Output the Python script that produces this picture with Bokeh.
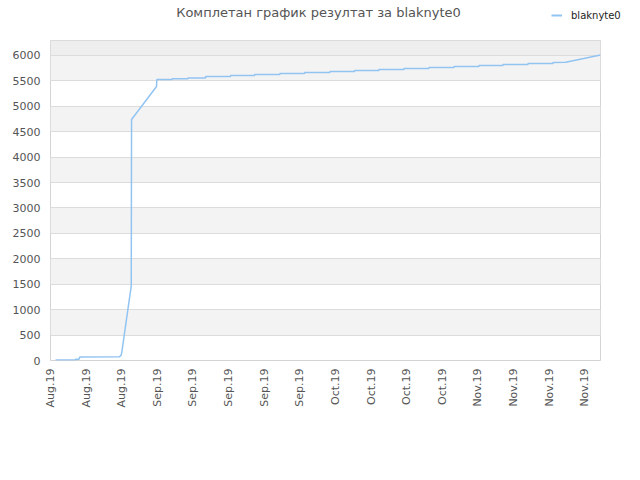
from bokeh.plotting import figure
from bokeh.models import (FixedTicker, Range1d, Legend, LegendItem, Label,
                          BoxAnnotation)
from bokeh.embed import file_html
from bokeh.resources import INLINE
import math

# ---- data (x = days since 12 Aug 2019, y = cumulative score) ----
tick_days = [0, 7, 14, 21, 28, 35, 42, 49, 56, 63, 70, 77, 84, 91, 98, 105]
tick_labels = ["Aug.19", "Aug.19", "Aug.19", "Sep.19", "Sep.19", "Sep.19",
               "Sep.19", "Sep.19", "Oct.19", "Oct.19", "Oct.19", "Oct.19",
               "Nov.19", "Nov.19", "Nov.19", "Nov.19"]

days = [0.98, 4.9, 4.9, 5.6, 5.76, 13.57, 13.86, 14.02, 15.87, 15.93,
        20.84, 20.9,
        23.93, 23.93, 27.0, 27.0, 30.48, 30.48, 35.39, 35.39, 40.11, 40.11,
        45.08, 45.08, 49.94, 49.94, 54.92, 54.92, 59.77, 59.77, 64.55, 64.55,
        69.47, 69.47, 74.38, 74.38, 79.3, 79.3, 84.21, 84.21, 88.93, 88.93,
        93.85, 93.85, 98.76, 98.76, 101.26, 104.8, 108.1]
scores = [10, 10, 25, 25, 70, 75, 100, 165, 1470, 4740,
          5390, 5528,
          5528, 5541, 5541, 5558, 5558, 5587, 5587, 5607, 5607, 5626,
          5626, 5646, 5646, 5665, 5665, 5685, 5685, 5705, 5705, 5724,
          5724, 5744, 5744, 5764, 5764, 5783, 5783, 5803, 5803, 5823,
          5823, 5842, 5842, 5862, 5868, 5940, 6010]

series_name = "blaknyte0"
title_text = "Комплетан график резултат за blaknyte0"

FONT = "DejaVu Sans"
LINE_COLOR = "#92c4f2"
W = 624

# ---- header strip (separate root, so its frame is the whole strip) ----
head = figure(width=W, height=40, output_backend="svg", toolbar_location=None,
              x_axis_location=None, y_axis_location=None,
              x_range=Range1d(0, W), y_range=Range1d(0, 40),
              min_border=0, min_border_left=0, min_border_right=0,
              min_border_top=0, min_border_bottom=0)
head.grid.visible = False
head.outline_line_color = None
head.background_fill_color = "white"
head.border_fill_color = "white"

# legend-only renderer: the series itself, drawn far outside the strip's range
legend_proxy = head.line(days, [-1000 - s for s in scores],
                         line_color=LINE_COLOR, line_width=2)
legend = Legend(items=[LegendItem(label=series_name, renderers=[legend_proxy])],
                location=(551, 18), padding=0, margin=0, spacing=0,
                glyph_width=11, glyph_height=14, label_height=14,
                label_standoff=9, border_line_color=None,
                background_fill_alpha=0,
                label_text_font=FONT, label_text_font_size="10px",
                label_text_color="#222222")
head.add_layout(legend, "center")
head.add_layout(Label(x=318, y=28, x_units="screen", y_units="screen",
                      text=title_text, text_align="center",
                      text_baseline="middle", text_font=FONT,
                      text_font_size="13px", text_color="#555555"))

# ---- main chart ----
p = figure(width=W, height=424, output_backend="svg", toolbar_location=None,
           x_range=Range1d(0, 108.1), y_range=Range1d(0, 6295),
           min_border_left=50, min_border_right=24, min_border_top=0,
           min_border_bottom=104)
p.background_fill_color = "white"
p.border_fill_color = "white"
p.outline_line_color = "#d4d4d4"
p.outline_line_width = 1

p.add_layout(BoxAnnotation(bottom=6000, fill_color="#eeeeee", fill_alpha=1,
                           line_color=None, level="image"))

p.xgrid.visible = False
p.ygrid.ticker = FixedTicker(ticks=list(range(0, 6001, 500)))
p.ygrid.grid_line_color = "#dcdcdc"
p.ygrid.band_fill_color = "#f3f3f3"
p.ygrid.band_fill_alpha = 1.0

p.yaxis.ticker = FixedTicker(ticks=list(range(0, 6001, 500)))
p.xaxis.ticker = FixedTicker(ticks=tick_days)
p.xaxis.major_label_overrides = {d: l for d, l in zip(tick_days, tick_labels)}
p.xaxis.major_label_orientation = math.pi / 2
for ax in (p.xaxis, p.yaxis):
    ax.axis_line_color = None
    ax.major_tick_line_color = None
    ax.minor_tick_line_color = None
    ax.major_tick_out = 0
    ax.major_tick_in = 0
    ax.minor_tick_out = 0
    ax.major_label_text_font = FONT
    ax.major_label_text_font_size = "11px"
    ax.major_label_text_color = "#555555"
p.yaxis.major_label_standoff = 10
p.xaxis.major_label_standoff = 8

p.line(days, scores, line_color=LINE_COLOR, line_width=1.5)

open("out.html", "w").write(file_html([head, p], INLINE))
